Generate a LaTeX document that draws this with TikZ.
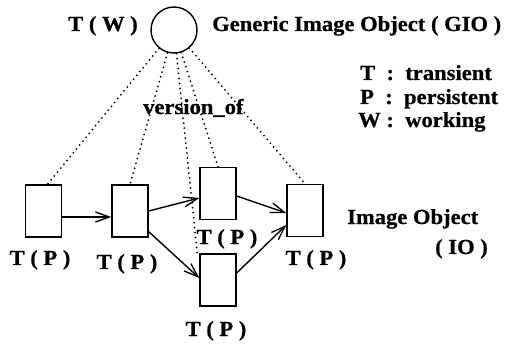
\documentclass[tikz,border=0pt]{standalone}
\usepackage{fontspec}
\setmainfont{Liberation Serif}[FakeStretch=1.05,FakeBold=0.6]
\usetikzlibrary{arrows.meta,calc}

\begin{document}
\begin{tikzpicture}[x=1pt,y=-1pt,
  lbl/.style={inner sep=0pt,font=\fontsize{21.5}{24}\selectfont\bfseries},
  obj/.style={draw,line width=1.4pt,minimum width=36pt,minimum height=52pt,inner sep=0pt},
  gen/.style={draw,circle,line width=1.4pt,minimum size=46pt,inner sep=0pt},
  ver/.style={line width=2pt,line cap=round,dash pattern=on 0pt off 5pt},
  flow/.style={line width=1.4pt,-{Straight Barb[length=14pt,width=10pt,line width=1.3pt]}}]
\useasboundingbox (0,0) rectangle (515,345);

% generic image object
\node[gen] (gio) at (174,30) {};
\node[lbl,anchor=base west] (tw) at (68,31) {T ( W )};
\node[lbl,anchor=base west] (giot) at (212,31) {Generic Image Object\ ( GIO )};

% legend
\node[lbl,anchor=base west] (l1) at (360,80) {T\ \ :\ \ transient};
\node[lbl,anchor=base west] (l2) at (360,104) {P\ \ :\ \ persistent};
\node[lbl,anchor=base west] (l3) at (358,127) {W :\ \ working};

% image objects
\node[obj] (b1) at (43.5,211) {};
\node[obj] (b2) at (130,211) {};
\node[obj] (b3) at (218,193.5) {};
\node[obj] (b4) at (218,280) {};
\node[obj] (b5) at (305,210.5) {};

\node[lbl,anchor=base] (p1) at (40,265) {T ( P )};
\node[lbl,anchor=base] (p2) at (127,269) {T ( P )};
\node[lbl,anchor=base] (p3) at (227,244) {T ( P )};
\node[lbl,anchor=base] (p4) at (216,336) {T ( P )};
\node[lbl,anchor=base] (p5) at (316,265) {T ( P )};

\node[lbl,anchor=base west] (io1) at (347,224) {Image Object};
\node[lbl,anchor=base west] (io2) at (435,254) {( IO )};

% version_of links
\draw[ver] (gio) -- ($(b1.north)+(4,0)$);
\draw[ver] (gio) -- (b2.north);
\draw[ver] (gio) -- ($(b4.north west)+(-2,0)$);
\draw[ver] (gio) -- (b3.north);
\draw[ver] (gio) -- (b5.north);
\node[lbl,anchor=base west] (vo) at (143,114) {version\_of};

% derivation arrows
\draw[flow] ($(b1.east)+(0,6)$) -- ($(b2.west)+(0,6)$);
\draw[flow] (b2.east) -- ($(b3.west)+(0,4.5)$);
\draw[flow] ($(b2.south east)+(0,-6)$) -- ($(b4.west)+(0,-2)$);
\draw[flow] ($(b3.east)+(0,2.5)$) -- ($(b5.west)+(0,2.5)$);
\draw[flow] ($(b4.east)+(0,-7)$) -- ($(b5.west)+(0,14.5)$);
\end{tikzpicture}
\end{document}
